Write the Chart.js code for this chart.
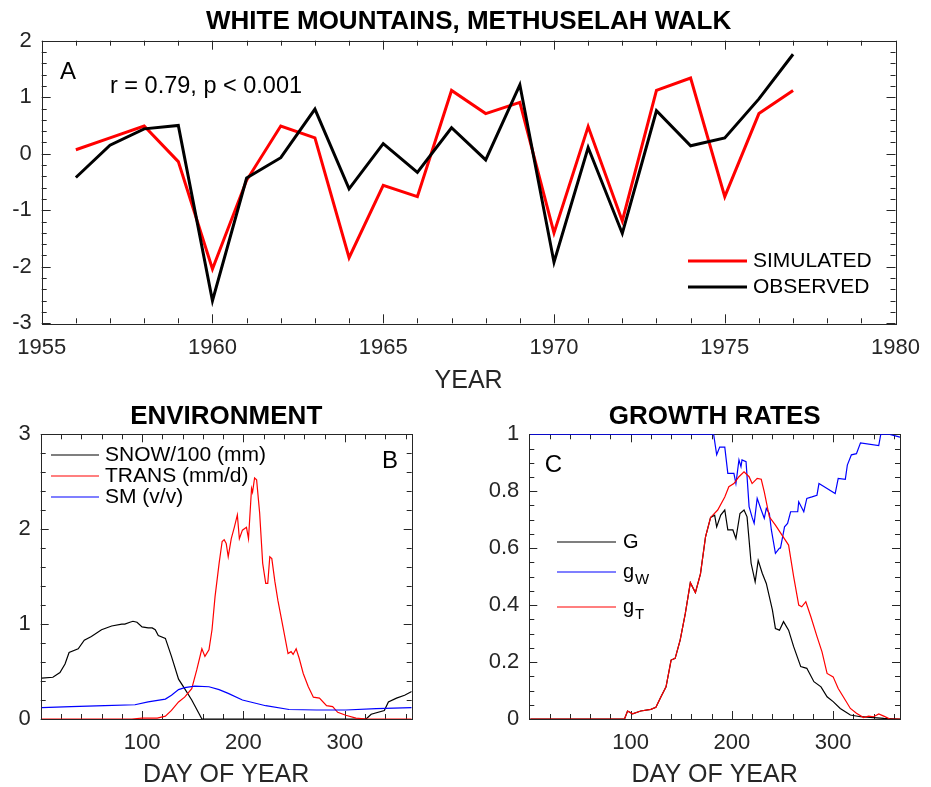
<!DOCTYPE html>
<html>
<head>
<meta charset="utf-8">
<title>White Mountains, Methuselah Walk</title>
<script src="https://cdn.jsdelivr.net/npm/chart.js@4.4.1/dist/chart.umd.min.js"></script>
<style>
  html, body { margin: 0; padding: 0; background: #fff; overflow: hidden; }
  #wrap { position: relative; width: 931px; height: 787px; }
  canvas { position: absolute; }
</style>
</head>
<body>
<div id="wrap">
  <canvas id="chartA" width="931" height="400" style="left:0;top:0"></canvas>
  <canvas id="chartB" width="465" height="400" style="left:0;top:395px"></canvas>
  <canvas id="chartC" width="466" height="400" style="left:465px;top:395px"></canvas>
</div>
<script>
// ---- panel A: ring-width index, simulated vs observed
const years = [1956, 1957, 1958, 1959, 1960, 1961, 1962, 1963, 1964, 1965, 1966,
               1967, 1968, 1969, 1970, 1971, 1972, 1973, 1974, 1975, 1976, 1977];
const simulated = [0.07, 0.28, 0.49, -0.14, -2.04, -0.47, 0.49, 0.28, -1.84, -0.56, -0.76,
                   1.12, 0.71, 0.91, -1.40, 0.48, -1.19, 1.12, 1.34, -0.76, 0.71, 1.12];
const observed = [-0.42, 0.15, 0.44, 0.50, -2.60, -0.43, -0.07, 0.79, -0.62, 0.18, -0.33,
                  0.46, -0.11, 1.22, -1.92, 0.11, -1.41, 0.76, 0.14, 0.28, 0.97, 1.76];
const yearTicks = [1955, 1960, 1965, 1970, 1975, 1980];
const indexTicks = [-3, -2, -1, 0, 1, 2];

// ---- panel B: environment (day of year)
const snowDay = [1, 12, 19, 24, 28, 37, 43, 50, 60, 70, 80, 83, 88, 91, 95, 100, 106, 110, 113,
                 116, 123, 129, 136, 142, 149, 156, 159, 200, 250, 300, 321, 326, 339, 343, 351, 359, 366];
const snowVal = [0.43, 0.44, 0.49, 0.58, 0.70, 0.74, 0.83, 0.87, 0.94, 0.98, 1.00, 1.00, 1.02, 1.03, 1.02, 0.97, 0.96, 0.96, 0.94,
                 0.88, 0.85, 0.66, 0.42, 0.32, 0.20, 0.06, 0.0, 0.0, 0.0, 0.0, 0.0, 0.05, 0.09, 0.18, 0.22, 0.25, 0.29];
const transDay = [1, 90, 100, 115, 123, 129, 136, 142, 149, 154, 159, 162, 166, 169, 172, 176, 179, 181,
                  183, 185, 188, 191, 194, 196, 199, 203, 205, 208, 209, 211, 213, 216, 219, 222, 224, 226,
                  228, 231, 234, 239, 244, 247, 249, 252, 255, 259, 264, 269, 275, 282, 288, 293, 301, 311, 321, 366];
const transVal = [0, 0, 0.01, 0.01, 0.03, 0.09, 0.18, 0.23, 0.32, 0.52, 0.74, 0.66, 0.73, 0.94, 1.29, 1.64, 1.87, 1.89,
                  1.85, 1.71, 1.90, 2.02, 2.15, 1.90, 1.99, 2.02, 1.90, 2.43, 2.39, 2.54, 2.52, 2.17, 1.64, 1.43, 1.43, 1.71,
                  1.69, 1.45, 1.25, 0.97, 0.69, 0.71, 0.68, 0.74, 0.64, 0.48, 0.34, 0.23, 0.22, 0.14, 0.13, 0.07, 0.04, 0.01, 0, 0];
const smDay = [1, 30, 63, 93, 106, 123, 129, 136, 142, 152, 166, 176, 185, 199, 222, 245, 272, 301, 331, 366];
const smVal = [0.12, 0.13, 0.14, 0.15, 0.18, 0.21, 0.25, 0.31, 0.33, 0.347, 0.34, 0.31, 0.27, 0.20, 0.14, 0.10, 0.095, 0.095, 0.11, 0.12];
const dayTicks = [100, 200, 300];
const envTicks = [0, 1, 2, 3];

// ---- panel C: growth rates
const gDay = [1, 94, 97, 102, 110, 120, 125, 130, 135, 140, 144, 149, 154, 159, 164, 169, 174, 179, 183, 185,
              189, 193, 196, 201, 204, 208, 212, 215, 219, 223, 226, 230, 234, 240, 243, 247, 251, 256, 261,
              268, 274, 281, 288, 294, 300, 307, 317, 327, 340, 350, 366];
const gVal = [0, 0, 0.028, 0.018, 0.028, 0.034, 0.041, 0.078, 0.113, 0.207, 0.213, 0.278, 0.37, 0.479, 0.444, 0.51, 0.64, 0.708, 0.716, 0.675,
              0.716, 0.734, 0.664, 0.664, 0.634, 0.722, 0.734, 0.71, 0.547, 0.482, 0.557, 0.512, 0.476, 0.383, 0.318, 0.312, 0.342, 0.312, 0.254,
              0.184, 0.178, 0.131, 0.113, 0.078, 0.061, 0.037, 0.014, 0.008, 0.005, 0.002, 0];
const gwDay = [1, 182, 185, 188, 193, 196, 202, 204, 207, 209, 210, 214, 217, 220, 222, 225, 229, 232, 234, 237,
               239, 243, 247, 248, 252, 255, 258, 265, 266, 271, 274, 279, 284, 286, 294, 302, 305, 312, 314,
               318, 323, 327, 345, 347, 356, 366];
const gwVal = [1, 1, 0.928, 0.955, 0.955, 0.863, 0.863, 0.827, 0.91, 0.886, 0.91, 0.904, 0.746, 0.708, 0.687, 0.775, 0.734, 0.705, 0.74, 0.722,
               0.664, 0.582, 0.60, 0.60, 0.675, 0.687, 0.728, 0.728, 0.763, 0.728, 0.775, 0.78, 0.786, 0.827, 0.81, 0.792, 0.845, 0.842, 0.892,
               0.928, 0.932, 0.97, 0.96, 1, 1, 0.99];
const gtDay = [1, 94, 97, 102, 110, 120, 125, 130, 135, 140, 144, 149, 154, 159, 164, 169, 174, 179, 186, 193,
               197, 202, 207, 212, 217, 220, 225, 229, 232, 237, 243, 250, 256, 261, 266, 269, 273, 278, 284,
               289, 294, 300, 305, 310, 317, 323, 330, 335, 340, 345, 350, 356, 366];
const gtVal = [0, 0, 0.028, 0.018, 0.028, 0.034, 0.041, 0.078, 0.113, 0.207, 0.213, 0.278, 0.37, 0.479, 0.444, 0.51, 0.64, 0.708, 0.734, 0.78,
               0.816, 0.827, 0.851, 0.868, 0.851, 0.827, 0.845, 0.842, 0.798, 0.71, 0.681, 0.643, 0.611, 0.5, 0.40, 0.394, 0.412, 0.359, 0.29,
               0.236, 0.16, 0.148, 0.107, 0.078, 0.037, 0.02, 0.005, 0.01, 0.008, 0.018, 0.01, 0, 0];
const rateTicks = [0, 0.2, 0.4, 0.6, 0.8, 1];

const FONT = '"Liberation Sans", Arial, Helvetica, sans-serif';
const INK = '#262626';
Chart.defaults.font.family = FONT;
Chart.defaults.color = INK;

const pts = (xs, ys) => xs.map((x, i) => ({ x: x, y: ys[i] }));

// box round the axes with inward major/minor ticks on all four sides
const frame = {
  id: 'frame',
  beforeDatasetsDraw(chart, args, o) {
    const { ctx, chartArea: a, scales: { x, y } } = chart;
    const isMajor = (v, step) => Math.abs(v / step - Math.round(v / step)) < 1e-6;
    ctx.save();
    ctx.strokeStyle = INK;
    ctx.lineWidth = 1;
    ctx.beginPath();
    let n = Math.round((x.max - x.min) / o.xMinor);
    for (let i = 0; i <= n; i++) {
      const v = x.min + i * o.xMinor;
      const px = Math.round(x.getPixelForValue(v)) + 0.5;
      const len = isMajor(v, o.xMajor) ? o.major : o.minor;
      ctx.moveTo(px, a.bottom); ctx.lineTo(px, a.bottom - len);
      ctx.moveTo(px, a.top); ctx.lineTo(px, a.top + len);
    }
    n = Math.round((y.max - y.min) / o.yMinor);
    for (let i = 0; i <= n; i++) {
      const v = y.min + i * o.yMinor;
      const py = Math.round(y.getPixelForValue(v)) + 0.5;
      const len = isMajor(v, o.yMajor) ? o.major : o.minor;
      ctx.moveTo(a.left, py); ctx.lineTo(a.left + len, py);
      ctx.moveTo(a.right, py); ctx.lineTo(a.right - len, py);
    }
    ctx.stroke();
    ctx.strokeRect(Math.round(a.left) + 0.5, Math.round(a.top) + 0.5,
                   Math.round(a.width), Math.round(a.height));
    ctx.restore();
  }
};

// legend drawn inside the axes, plus free text (panel letter, r value)
const keys = {
  id: 'keys',
  afterDatasetsDraw(chart, args, o) {
    const ctx = chart.ctx;
    const ds = chart.data.datasets;
    ctx.save();
    ctx.textBaseline = 'middle';
    (o.items || []).forEach((it) => {
      const d = ds[it.index];
      ctx.strokeStyle = d.borderColor;
      ctx.lineWidth = d.borderWidth;
      ctx.beginPath();
      ctx.moveTo(o.x0, it.y); ctx.lineTo(o.x1, it.y);
      ctx.stroke();
      ctx.fillStyle = '#000';
      ctx.textAlign = 'left';
      const parts = d.label.split('_');
      ctx.font = o.size + 'px ' + FONT;
      ctx.fillText(parts[0], o.xt, it.y);
      if (parts[1]) {
        const w = ctx.measureText(parts[0]).width;
        ctx.font = o.subSize + 'px ' + FONT;
        ctx.fillText(parts[1], o.xt + w + 1, it.y + o.subDrop);
      }
    });
    (o.notes || []).forEach((t) => {
      ctx.fillStyle = '#000';
      ctx.textAlign = t.align || 'left';
      ctx.font = t.size + 'px ' + FONT;
      ctx.fillText(t.text, t.x, t.y);
    });
    ctx.restore();
  }
};

function axes(xTicks, yTicks, xmin, xmax, ymin, ymax, yWidth, xHeight, xTitle, xTitlePad) {
  return {
    x: {
      type: 'linear', min: xmin, max: xmax,
      grid: { display: false, drawTicks: false }, border: { display: false },
      afterBuildTicks: (s) => { s.ticks = xTicks.map((v) => ({ value: v })); },
      afterFit: (s) => { s.height = xHeight; },
      ticks: { padding: 11, font: { size: 22 }, color: INK, maxRotation: 0, callback: (v) => String(v) },
      title: { display: true, text: xTitle, color: INK, font: { size: 25 }, padding: { top: 0, bottom: xTitlePad } }
    },
    y: {
      type: 'linear', min: ymin, max: ymax,
      grid: { display: false, drawTicks: false }, border: { display: false },
      afterBuildTicks: (s) => { s.ticks = yTicks.map((v) => ({ value: v })); },
      afterFit: (s) => { s.width = yWidth; },
      ticks: { padding: 10, font: { size: 22 }, color: INK, callback: (v) => String(v) }
    }
  };
}

function line(label, data, color, width, order) {
  return { label: label, data: data, borderColor: color, backgroundColor: color, borderWidth: width,
           pointRadius: 0, tension: 0, fill: false, order: order };
}

// ---- A
new Chart(document.getElementById('chartA'), {
  type: 'line',
  data: {
    datasets: [
      line('SIMULATED', pts(years, simulated), '#ff0000', 3, 1),
      line('OBSERVED', pts(years, observed), '#000000', 3, 0)
    ]
  },
  options: {
    responsive: false, animation: false, events: [],
    layout: { padding: { left: 0, right: 31, top: 0, bottom: 0 } },
    scales: axes(yearTicks, indexTicks, 1955, 1980, -3, 2, 41.7, 76.7, 'YEAR', 4),
    plugins: {
      legend: { display: false }, tooltip: { enabled: false },
      title: { display: true, fullSize: false, text: 'WHITE MOUNTAINS, METHUSELAH WALK', color: '#000',
               font: { size: 26, weight: 'bold' }, padding: { top: 6, bottom: 3.5 } },
      frame: { xMinor: 1, xMajor: 5, yMinor: 0.2, yMajor: 1, major: 9, minor: 5 },
      keys: {
        x0: 688, x1: 747, xt: 753, size: 21,
        items: [{ index: 0, y: 261 }, { index: 1, y: 287 }],
        notes: [
          { text: 'A', x: 68, y: 72, size: 24, align: 'center' },
          { text: 'r = 0.79, p < 0.001', x: 110, y: 87, size: 23.5 }
        ]
      }
    }
  },
  plugins: [frame, keys]
});

// ---- B
new Chart(document.getElementById('chartB'), {
  type: 'line',
  data: {
    datasets: [
      line('SNOW/100 (mm)', pts(snowDay, snowVal), '#000000', 1.2, 2),
      line('TRANS (mm/d)', pts(transDay, transVal), '#ff0000', 1.2, 1),
      line('SM (v/v)', pts(smDay, smVal), '#0000ff', 1.2, 0)
    ]
  },
  options: {
    responsive: false, animation: false, events: [],
    layout: { padding: { left: 0, right: 53.3, top: 0, bottom: 0 } },
    scales: axes(dayTicks, envTicks, 0, 366, 0, 3, 40.7, 76, 'DAY OF YEAR', 5),
    plugins: {
      legend: { display: false }, tooltip: { enabled: false },
      title: { display: true, fullSize: false, text: 'ENVIRONMENT', color: '#000',
               font: { size: 26, weight: 'bold' }, padding: { top: 6.4, bottom: 1.7 } },
      frame: { xMinor: 20, xMajor: 100, yMinor: 0.2, yMajor: 1, major: 8, minor: 5 },
      keys: {
        x0: 51, x1: 99, xt: 105, size: 21,
        items: [{ index: 0, y: 60 }, { index: 1, y: 81 }, { index: 2, y: 102 }],
        notes: [{ text: 'B', x: 390, y: 66, size: 24, align: 'center' }]
      }
    }
  },
  plugins: [frame, keys]
});

// ---- C
new Chart(document.getElementById('chartC'), {
  type: 'line',
  data: {
    datasets: [
      line('G', pts(gDay, gVal), '#000000', 1.2, 2),
      line('g_W', pts(gwDay, gwVal), '#0000ff', 1.2, 1),
      line('g_T', pts(gtDay, gtVal), '#ff0000', 1.2, 0)
    ]
  },
  options: {
    responsive: false, animation: false, events: [],
    layout: { padding: { left: 0, right: 31, top: 0, bottom: 0 } },
    scales: axes(dayTicks, rateTicks, 0, 366, 0, 1, 64.3, 76, 'DAY OF YEAR', 5),
    plugins: {
      legend: { display: false }, tooltip: { enabled: false },
      title: { display: true, fullSize: false, text: 'GROWTH RATES', color: '#000',
               font: { size: 26, weight: 'bold' }, padding: { top: 6.4, bottom: 1.7 } },
      frame: { xMinor: 20, xMajor: 100, yMinor: 0.05, yMajor: 0.2, major: 8, minor: 5 },
      keys: {
        x0: 92, x1: 151, xt: 158, size: 20, subSize: 15, subDrop: 8,
        items: [{ index: 0, y: 147 }, { index: 1, y: 177 }, { index: 2, y: 212 }],
        notes: [{ text: 'C', x: 88.5, y: 70, size: 24, align: 'center' }]
      }
    }
  },
  plugins: [frame, keys]
});
</script>
</body>
</html>
